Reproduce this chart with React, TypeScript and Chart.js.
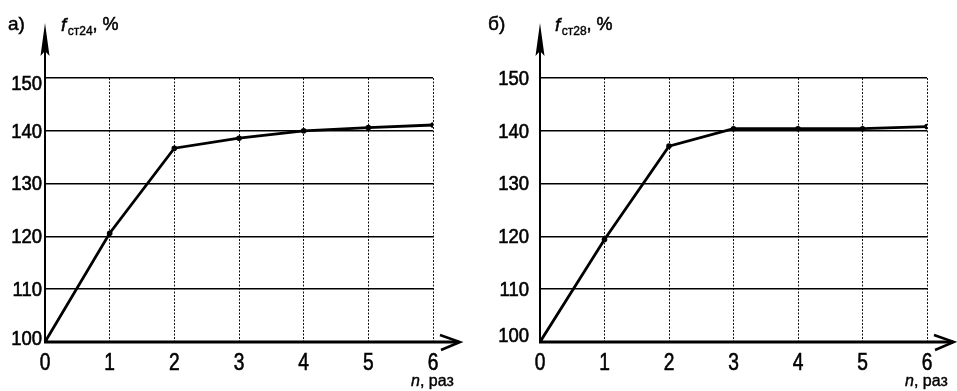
import React, { useEffect, useRef } from "react";
import { Chart, registerables } from "chart.js";

Chart.register(...registerables);

// ---- data ----
const nValues = [0, 1, 2, 3, 4, 5, 6];
const fct24 = [100, 120.6, 136.7, 138.6, 140.0, 140.6, 141.1];
const fct28 = [100, 119.4, 137.1, 140.4, 140.4, 140.4, 140.8];
const xTickValues = [0, 1, 2, 3, 4, 5, 6];
const yTickValues = [100, 110, 120, 130, 140, 150];

const SANS = '"Liberation Sans", Arial, sans-serif';

type Panel = {
  tag: string;
  sub: string;
  values: number[];
  left: number;
  width: number;
  yAxisWidth: number;
  rightPad: number;
  yTickPad: number;
  topShift: number;
  bottomShift: number;
  tagX: number;
  titleDx: number;
};

const panels: Panel[] = [
  { tag: "а)", sub: "ст24", values: fct24, left: 0, width: 478, yAxisWidth: 45, rightPad: 45, yTickPad: 3, topShift: 5, bottomShift: -4, tagX: 8, titleDx: 16 },
  { tag: "б)", sub: "ст28", values: fct28, left: 478, width: 479, yAxisWidth: 62, rightPad: 30, yTickPad: 11, topShift: 0, bottomShift: -7, tagX: 10, titleDx: 15 },
];

const H = 391;
const TOP = 78;
const XAXIS_H = 49;

function boldText(ctx: CanvasRenderingContext2D, s: string, x: number, y: number, w = 0.5) {
  ctx.fillText(s, x, y);
  ctx.lineWidth = w;
  ctx.strokeText(s, x, y);
}

function makeDecor(p: Panel) {
  return {
    id: "decor",
    afterDraw(chart: any) {
      const { ctx } = chart;
      const xs = chart.scales.x;
      const ys = chart.scales.y;
      const x0 = xs.getPixelForValue(xs.min);
      const x6 = xs.getPixelForValue(xs.max);
      const y0 = ys.getPixelForValue(ys.min);
      const yTop = ys.getPixelForValue(ys.max);
      ctx.save();
      ctx.strokeStyle = "#000";
      ctx.fillStyle = "#000";
      ctx.lineCap = "butt";
      // y axis with filled arrow
      ctx.lineWidth = 2;
      ctx.beginPath();
      ctx.moveTo(x0, y0 + 1);
      ctx.lineTo(x0, yTop - 36);
      ctx.stroke();
      ctx.beginPath();
      ctx.moveTo(x0, yTop - 55);
      ctx.lineTo(x0 - 4.5, yTop - 22);
      ctx.lineTo(x0, yTop - 27);
      ctx.lineTo(x0 + 4.5, yTop - 22);
      ctx.closePath();
      ctx.fill();
      // x axis with open arrow
      ctx.lineWidth = 3;
      ctx.beginPath();
      ctx.moveTo(x0 - 1, y0);
      ctx.lineTo(x6 + 26, y0);
      ctx.stroke();
      ctx.lineWidth = 2.5;
      ctx.beginPath();
      ctx.moveTo(x6 + 7, y0 - 7);
      ctx.lineTo(x6 + 27, y0);
      ctx.lineTo(x6 + 8, y0 + 8);
      ctx.stroke();

      // x tick labels (condensed)
      ctx.textBaseline = "alphabetic";
      ctx.textAlign = "center";
      ctx.font = `24px ${SANS}`;
      xs.ticks.forEach((t: any) => {
        const px = xs.getPixelForValue(t.value);
        ctx.save();
        ctx.translate(px, y0 + 28);
        ctx.scale(0.8, 1);
        boldText(ctx, String(t.value), 0, 0, 0.6);
        ctx.restore();
      });
      // y tick labels (slightly condensed)
      ctx.textAlign = "right";
      ctx.textBaseline = "middle";
      ctx.font = `21px ${SANS}`;
      ys.ticks.forEach((t: any) => {
        const py = ys.getPixelForValue(t.value);
        let dy = 0;
        if (t.value === ys.max) dy = p.topShift;
        if (t.value === ys.min) dy = p.bottomShift;
        ctx.save();
        ctx.translate(x0 - p.yTickPad, py + dy + 1);
        ctx.scale(0.88, 1);
        boldText(ctx, String(t.value), 0, 0, 0.6);
        ctx.restore();
      });

      // panel tag
      ctx.textBaseline = "alphabetic";
      ctx.textAlign = "left";
      ctx.font = `19px ${SANS}`;
      boldText(ctx, p.tag, p.tagX, 30, 0.5);
      // y title
      let tx = x0 + p.titleDx;
      ctx.font = `italic 19px ${SANS}`;
      boldText(ctx, "f", tx, 31, 0.5);
      tx += ctx.measureText("f").width + 1.5;
      ctx.font = `12px ${SANS}`;
      boldText(ctx, p.sub, tx, 35, 0.4);
      tx += ctx.measureText(p.sub).width;
      ctx.font = `18px ${SANS}`;
      boldText(ctx, ", %", tx, 30, 0.5);
      // x title
      let nx = x6 - 22;
      ctx.font = `italic 16px ${SANS}`;
      boldText(ctx, "n", nx, 386, 0.4);
      nx += ctx.measureText("n").width;
      ctx.font = `16px ${SANS}`;
      boldText(ctx, ", раз", nx, 386, 0.4);
      ctx.restore();
    },
  };
}

function PanelChart({ p }: { p: Panel }) {
  const ref = useRef<HTMLCanvasElement | null>(null);
  useEffect(() => {
    if (!ref.current) return;
    const chart = new Chart(ref.current, {
      type: "line",
      data: {
        datasets: [
          {
            data: nValues.map((n, i) => ({ x: n, y: p.values[i] })),
            borderColor: "#000",
            borderWidth: 2.8,
            pointRadius: 2.8,
            pointBackgroundColor: "#000",
            pointBorderWidth: 0,
            tension: 0,
          },
        ],
      },
      options: {
        animation: false,
        responsive: false,
        maintainAspectRatio: false,
        layout: { padding: { top: TOP, right: p.rightPad, left: 0, bottom: 0 } },
        plugins: { legend: { display: false }, tooltip: { enabled: false } },
        scales: {
          x: {
            type: "linear",
            min: 0,
            max: 6,
            afterBuildTicks: (s: any) => {
              s.ticks = xTickValues.map((v) => ({ value: v }));
            },
            afterFit: (s: any) => {
              s.height = XAXIS_H;
            },
            grid: { color: "#111", lineWidth: 1, drawTicks: false },
            border: { display: false, dash: [2, 1.5] },
            ticks: { display: false },
          },
          y: {
            type: "linear",
            min: 100,
            max: 150,
            afterBuildTicks: (s: any) => {
              s.ticks = yTickValues.map((v) => ({ value: v }));
            },
            afterFit: (s: any) => {
              s.width = p.yAxisWidth;
            },
            grid: { color: "#000", lineWidth: 1.6, drawTicks: false },
            border: { display: false },
            ticks: { display: false },
          },
        },
      },
      plugins: [makeDecor(p)],
    } as any);
    return () => chart.destroy();
  }, [p]);
  return (
    <canvas
      ref={ref}
      width={p.width}
      height={H}
      style={{ position: "absolute", left: p.left, top: 0, width: p.width, height: H, display: "block" }}
    />
  );
}

export default function App() {
  return (
    <div style={{ position: "absolute", left: 0, top: 0, width: 957, height: H, background: "#fff" }}>
      {panels.map((p) => (
        <PanelChart key={p.tag} p={p} />
      ))}
    </div>
  );
}
